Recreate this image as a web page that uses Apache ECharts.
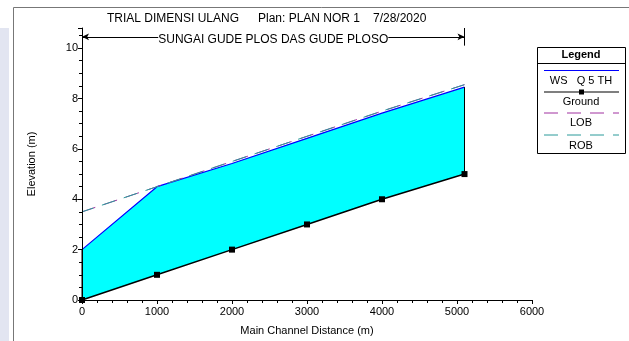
<!DOCTYPE html>
<html><head><meta charset="utf-8">
<script src="https://cdn.jsdelivr.net/npm/echarts@6/dist/echarts.min.js"></script>
<style>html,body{margin:0;padding:0;background:#fff}#c{width:629px;height:341px}</style>
</head><body><div id="c"></div>
<script>
const stations = [0, 1000, 2000, 3000, 4000, 5100];
const wsQ5 = [2.0, 4.5, 5.42, 6.42, 7.42, 8.45];
const ground = [0, 1, 2, 3, 4, 5];
const lob = [3.5, 4.5, 5.5, 6.5, 7.5, 8.55];
const rob = [3.5, 4.5, 5.5, 6.5, 7.5, 8.55];
const reachLabel = 'SUNGAI GUDE PLOS DAS GUDE PLOSO';

const pair = a => stations.map((x, i) => [x, a[i]]);
const last = stations.length - 1;
const FONT = 'Liberation Sans';

const chart = echarts.init(document.getElementById('c'), null, {renderer: 'canvas'});
chart.setOption({
  animation: false,
  backgroundColor: '#fff',
  grid: {left: 82, right: 97, top: 28, bottom: 38},
  xAxis: {
    type: 'value', min: 0, max: 6000, interval: 1000, z: 20,
    name: 'Main Channel Distance (m)', nameLocation: 'middle', nameGap: 25,
    nameTextStyle: {fontFamily: FONT, fontSize: 11, color: '#000'},
    axisLine: {lineStyle: {color: '#000', width: 1}},
    axisTick: {inside: false, length: 4, lineStyle: {color: '#000'}},
    minorTick: {show: true, splitNumber: 5, length: 3, lineStyle: {color: '#000'}},
    axisLabel: {fontFamily: FONT, fontSize: 11, color: '#000', margin: 6, formatter: v => String(v)},
    splitLine: {show: false}
  },
  yAxis: {
    type: 'value', min: 0, max: 10.8, interval: 2, z: 20,
    name: 'Elevation (m)', nameLocation: 'middle', nameGap: 45, nameRotate: 90,
    nameTextStyle: {fontFamily: FONT, fontSize: 11, color: '#000'},
    axisLine: {show: true, lineStyle: {color: '#000', width: 1}},
    axisTick: {show: true, length: 4, lineStyle: {color: '#000'}},
    minorTick: {show: true, splitNumber: 4, length: 3, lineStyle: {color: '#000'}},
    axisLabel: {fontFamily: FONT, fontSize: 11, color: '#000', margin: 4, showMaxLabel: false},
    splitLine: {show: false}
  },
  series: [
    {type: 'line', name: 'WS Q 5 TH', data: pair(wsQ5), symbol: 'none',
     lineStyle: {color: '#0000ff', width: 1.2},
     areaStyle: {color: '#00ffff', opacity: 1, origin: 'start'}, z: 2},
    {type: 'line', name: 'GroundFill', data: pair(ground), symbol: 'none',
     lineStyle: {width: 0}, areaStyle: {color: '#fff', opacity: 1, origin: 'start'}, z: 3, silent: true},
    {type: 'line', name: 'EdgeCover', data: [[stations[last], 0], [stations[last], ground[last]]], symbol: 'none',
     lineStyle: {color: '#fff', width: 3}, z: 3, silent: true},
    {type: 'line', name: 'LOB', data: pair(lob), symbol: 'none',
     lineStyle: {color: '#a030a0', width: 1, type: [14, 9], dashOffset: 0}, z: 4},
    {type: 'line', name: 'ROB', data: pair(rob), symbol: 'none',
     lineStyle: {color: '#2a9a9a', width: 1, type: [14, 9], dashOffset: 2}, z: 5},
    {type: 'line', name: 'Ends', data: [[stations[0], ground[0]], [stations[0], wsQ5[0]]], symbol: 'none',
     lineStyle: {color: '#000', width: 1}, z: 6},
    {type: 'line', name: 'Ends2', data: [[stations[last], ground[last]], [stations[last], wsQ5[last]]], symbol: 'none',
     lineStyle: {color: '#000', width: 1}, z: 6},
    {type: 'line', name: 'Ground', data: pair(ground), symbol: 'rect', symbolSize: 6, showAllSymbol: true,
     itemStyle: {color: '#000'}, lineStyle: {color: '#000', width: 1.5}, z: 21,
     markLine: {
       silent: true, animation: false,
       data: [
         [{coord: [stations[0], 10.45], symbol: 'arrow', symbolSize: [5, 7]},
          {coord: [stations[last], 10.45], symbol: 'arrow', symbolSize: [5, 7],
           label: {show: true, position: 'middle', formatter: reachLabel, fontFamily: FONT, fontSize: 12,
                   color: '#000', backgroundColor: '#fff', padding: [0, 0], distance: -9}}],
         [{coord: [stations[last], 10.8], symbol: 'none'}, {coord: [stations[last], 10.1], symbol: 'none'}]
       ],
       lineStyle: {color: '#000', width: 1, type: 'solid'},
       label: {show: false}
     }}
  ],
  graphic: [
    {type: 'rect', shape: {x: 0, y: 28, width: 9, height: 313}, style: {fill: '#e2e5f1'}, silent: true},
    {type: 'line', shape: {x1: 13.5, y1: 7.5, x2: 629, y2: 7.5}, style: {stroke: '#777', lineWidth: 1}},
    {type: 'line', shape: {x1: 13.5, y1: 7.5, x2: 13.5, y2: 341}, style: {stroke: '#777', lineWidth: 1}},
    {type: 'text', x: 107, y: 13, style: {text: 'TRIAL DIMENSI ULANG', font: '12px "Liberation Sans"', fill: '#000'}},
    {type: 'text', x: 258, y: 13, style: {text: 'Plan: PLAN NOR 1', font: '12px "Liberation Sans"', fill: '#000'}},
    {type: 'text', x: 373, y: 13, style: {text: '7/28/2020', font: '12px "Liberation Sans"', fill: '#000'}},
    {type: 'rect', shape: {x: 537.5, y: 47.5, width: 88, height: 106}, style: {fill: '#fff', stroke: '#000', lineWidth: 1}},
    {type: 'text', x: 581, y: 49, style: {text: 'Legend', font: 'bold 11px "Liberation Sans"', fill: '#000', align: 'center'}},
    {type: 'line', shape: {x1: 537.5, y1: 63.5, x2: 625.5, y2: 63.5}, style: {stroke: '#000', lineWidth: 1}},
    {type: 'line', shape: {x1: 544, y1: 70.5, x2: 619, y2: 70.5}, style: {stroke: '#0000ff', lineWidth: 1.2}},
    {type: 'text', x: 581, y: 75, style: {text: 'WS   Q 5 TH', font: '11px "Liberation Sans"', fill: '#000', align: 'center'}},
    {type: 'line', shape: {x1: 544, y1: 92, x2: 619, y2: 92}, style: {stroke: '#000', lineWidth: 1.2}},
    {type: 'rect', shape: {x: 579, y: 89.5, width: 5, height: 5}, style: {fill: '#000'}},
    {type: 'text', x: 581, y: 96, style: {text: 'Ground', font: '11px "Liberation Sans"', fill: '#000', align: 'center'}},
    {type: 'line', shape: {x1: 544, y1: 113, x2: 619, y2: 113}, style: {stroke: '#a030a0', lineWidth: 1, lineDash: [14, 9]}},
    {type: 'text', x: 581, y: 117, style: {text: 'LOB', font: '11px "Liberation Sans"', fill: '#000', align: 'center'}},
    {type: 'line', shape: {x1: 544, y1: 135, x2: 619, y2: 135}, style: {stroke: '#2a9a9a', lineWidth: 1, lineDash: [14, 9]}},
    {type: 'text', x: 581, y: 140, style: {text: 'ROB', font: '11px "Liberation Sans"', fill: '#000', align: 'center'}}
  ]
});
</script></body></html>
